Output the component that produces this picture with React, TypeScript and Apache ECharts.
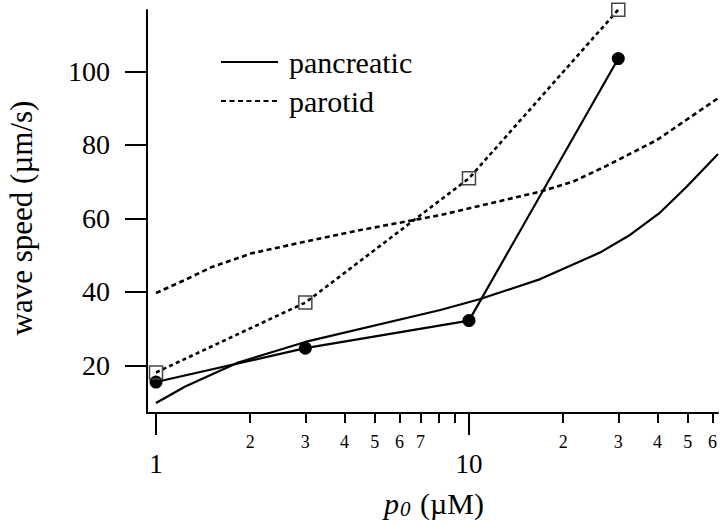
import React, { useEffect, useRef } from "react";
import * as echarts from "echarts";

// model curves
const pancModelX = [1, 1.24, 1.83, 3, 8.1, 10.8, 16.9, 26.2, 32.7, 40.8, 49.6, 62.5];
const pancModelY = [9.8, 14.3, 20.8, 26.4, 35.1, 38.0, 43.5, 50.7, 55.5, 61.6, 68.6, 77.5];
const parModelX = [1, 1.24, 1.5, 2.02, 3, 4.54, 8.1, 10.8, 16.9, 21.5, 27.5, 39.8, 62.5];
const parModelY = [39.7, 43.3, 46.7, 50.5, 53.7, 56.9, 60.9, 63.4, 67.3, 70.0, 74.3, 81.3, 92.7];
// experimental points
const expX = [1, 3, 10, 30];
const pancExpY = [15.5, 24.7, 32.2, 103.5];
const parExpY = [18.1, 37.1, 70.9, 116.8];
// ticks
const yTicks = [20, 40, 60, 80, 100];
const xMajor = [1, 10];
const xMinorTicks = [2, 3, 4, 5, 6, 7, 8, 9, 20, 30, 40, 50, 60];
const xMinorLabels = [2, 3, 4, 5, 6, 7, 20, 30, 40, 50, 60];

const FONT = "'Liberation Serif', 'DejaVu Serif', serif";
const L = (v: number) => Math.log10(v);

export default function App() {
  const ref = useRef<HTMLDivElement>(null);
  useEffect(() => {
    document.body.style.margin = "0";
    if (!ref.current) return;
    const chart = echarts.init(ref.current, null, { renderer: "svg" });
    const xMin = -0.0288;
    const xMax = 1.7955;
    const pair = (xs: number[], ys: number[]) => xs.map((x, i) => [L(x), ys[i]]);
    chart.setOption({
      animation: false,
      backgroundColor: "#fff",
      grid: { left: 147, right: 2, top: 10, bottom: 111, containLabel: false },
      legend: {
        data: ["pancreatic", "parotid"],
        orient: "vertical",
        left: 220,
        top: 47,
        padding: 0,
        itemWidth: 57,
        itemHeight: 14,
        itemGap: 9,
        itemStyle: { opacity: 0 },
        textStyle: { fontFamily: FONT, fontSize: 30, color: "#000", padding: [0, 0, 0, 6] },
      },
      xAxis: [
        {
          type: "value",
          min: xMin,
          max: xMax,
          position: "bottom",
          axisLine: { show: true, onZero: false, lineStyle: { color: "#000", width: 2 } },
          axisTick: { show: true, customValues: xMajor.map(L), length: 22, lineStyle: { color: "#000", width: 2 } },
          axisLabel: {
            customValues: xMajor.map(L),
            formatter: (v: number) => String(Math.round(Math.pow(10, v))),
            fontFamily: FONT,
            fontSize: 27,
            color: "#000",
            margin: 37,
          },
          splitLine: { show: false },
        },
        {
          type: "value",
          min: xMin,
          max: xMax,
          position: "bottom",
          offset: 0,
          axisLine: { show: false },
          axisTick: { show: true, customValues: xMinorTicks.map(L), length: 10, lineStyle: { color: "#000", width: 2 } },
          axisLabel: {
            customValues: xMinorLabels.map(L),
            formatter: (v: number) => String(Math.round(Math.pow(10, v))).charAt(0),
            fontFamily: FONT,
            fontSize: 18,
            color: "#000",
            margin: 20,
          },
          splitLine: { show: false },
        },
      ],
      yAxis: {
        type: "value",
        min: 7.07,
        max: 116.7,
        axisLine: { show: true, onZero: false, lineStyle: { color: "#000", width: 2 } },
        axisTick: { show: true, customValues: yTicks, length: 22, lineStyle: { color: "#000", width: 2 } },
        axisLabel: { customValues: yTicks, fontFamily: FONT, fontSize: 28, color: "#000", margin: 37 },
        splitLine: { show: false },
      },
      graphic: [
        {
          type: "text",
          x: 21,
          y: 218,
          rotation: Math.PI / 2,
          style: {
            text: "wave speed (µm/s)",
            fontFamily: FONT,
            fontSize: 31,
            fill: "#000",
            align: "center",
            verticalAlign: "middle",
          },
        },
        {
          type: "text",
          x: 384,
          y: 503,
          style: {
            text: "p",
            fontFamily: FONT,
            fontSize: 30,
            fontStyle: "italic",
            fill: "#000",
            align: "left",
            verticalAlign: "middle",
          },
        },
        {
          type: "text",
          x: 400,
          y: 509,
          style: {
            text: "0",
            fontFamily: FONT,
            fontSize: 21,
            fontStyle: "italic",
            fill: "#000",
            align: "left",
            verticalAlign: "middle",
          },
        },
        {
          type: "text",
          x: 420,
          y: 503,
          style: {
            text: "(µM)",
            fontFamily: FONT,
            fontSize: 30,
            fill: "#000",
            align: "left",
            verticalAlign: "middle",
          },
        },
      ],
      series: [
        {
          name: "pancreatic",
          type: "line",
          data: pair(pancModelX, pancModelY),
          symbol: "none",
          showSymbol: false,
          lineStyle: { color: "#000", width: 2.2, type: "solid" },
          itemStyle: { color: "#000" },
        },
        {
          name: "parotid",
          type: "line",
          data: pair(parModelX, parModelY),
          symbol: "none",
          showSymbol: false,
          lineStyle: { color: "#000", width: 2.6, type: [5, 3.5] },
          itemStyle: { color: "#000" },
        },
        {
          name: "pancreatic exp",
          type: "line",
          data: pair(expX, pancExpY),
          symbol: "circle",
          symbolSize: 13,
          clip: false,
          lineStyle: { color: "#000", width: 2.2 },
          itemStyle: { color: "#000" },
          z: 3,
        },
        {
          name: "parotid exp",
          type: "line",
          data: pair(expX, parExpY),
          symbol: "rect",
          symbolSize: 13,
          clip: false,
          lineStyle: { color: "#000", width: 2.6, type: [4, 3.3] },
          itemStyle: { color: "transparent", borderColor: "#444", borderWidth: 1.5 },
          z: 3,
        },
      ],
    });
    return () => chart.dispose();
  }, []);
  return <div ref={ref} style={{ width: 720, height: 524 }} />;
}
